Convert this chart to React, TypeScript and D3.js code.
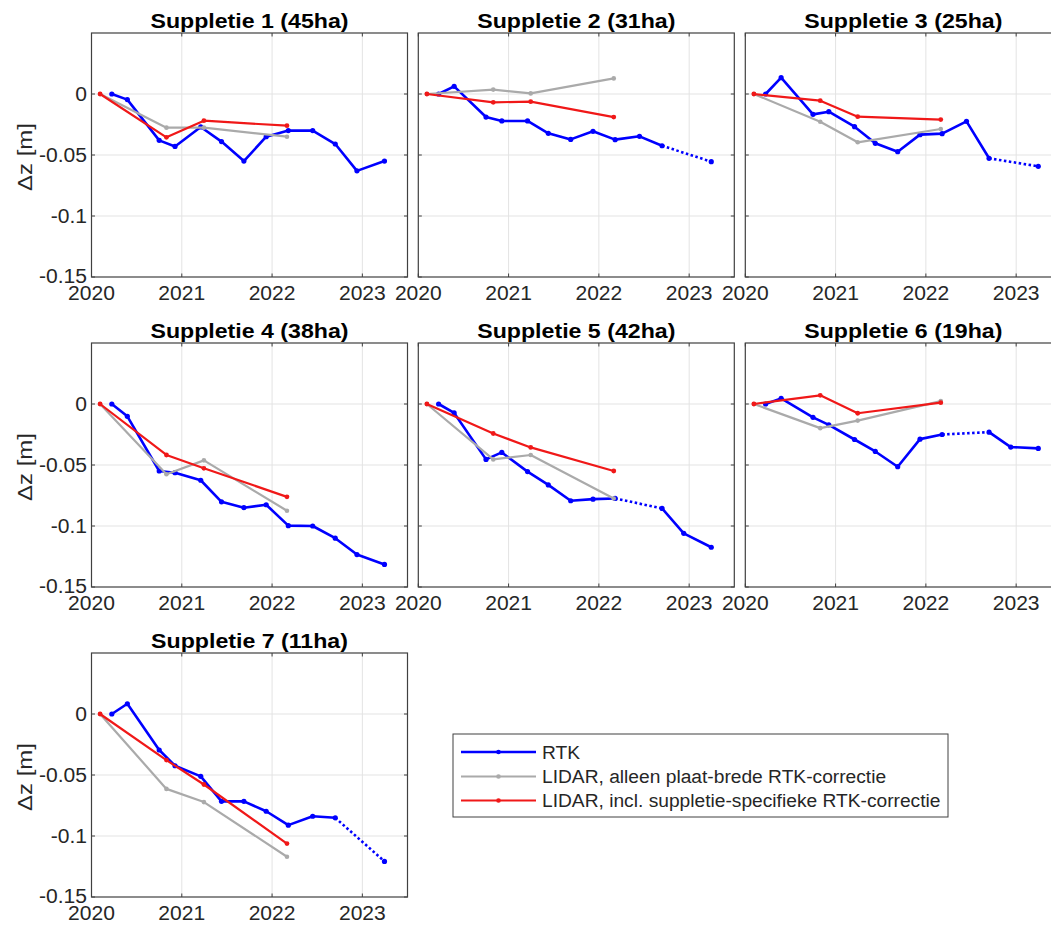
import React from "react";
import * as d3 from "d3";

// ---------- data ----------
const RTK_DATES = [2020.225, 2020.397, 2020.75, 2020.925, 2021.21, 2021.44, 2021.688, 2021.935, 2022.18, 2022.45, 2022.70, 2022.94, 2023.245];
const LIDAR_DATES = [2020.095, 2020.83, 2021.245, 2022.165];

const TITLES = ["Suppletie 1 (45ha)", "Suppletie 2 (31ha)", "Suppletie 3 (25ha)", "Suppletie 4 (38ha)", "Suppletie 5 (42ha)", "Suppletie 6 (19ha)", "Suppletie 7 (11ha)"];

const rtk1 = [0, -0.0046, -0.038, -0.043, -0.027, -0.039, -0.055, -0.035, -0.030, -0.030, -0.041, -0.063, -0.055];
const rtk2 = [0, 0.0063, -0.0189, -0.0221, -0.0221, -0.0322, -0.0372, -0.0306, -0.0374, -0.0347, -0.0424, null, -0.0555];
const rtk3 = [0, 0.0134, -0.0167, -0.0145, -0.0268, -0.0404, -0.0473, -0.0333, -0.0325, -0.0224, -0.0527, null, -0.0593];
const rtk4 = [0, -0.0101, -0.0549, -0.0563, -0.0625, -0.0802, -0.085, -0.0826, -0.0997, -0.100, -0.110, -0.1234, -0.1315];
const rtk5 = [0, -0.0073, -0.0454, -0.0397, -0.0554, -0.0663, -0.0793, -0.078, -0.0774, null, -0.0856, -0.106, -0.1174];
const rtk6 = [0, 0.0046, -0.0109, -0.0171, -0.0291, -0.0389, -0.0514, -0.0288, -0.025, null, -0.0231, -0.0353, -0.0364];
const rtk7 = [0, 0.0084, -0.0295, -0.0424, -0.0511, -0.0716, -0.0716, -0.0797, -0.0911, -0.0838, -0.0851, null, -0.1208];

const gray1 = [0, -0.0276, -0.0276, -0.035];
const gray2 = [0, 0.0036, 0.0005, 0.0128];
const gray3 = [0, -0.0227, -0.0396, -0.0287];
const gray4 = [0, -0.0576, -0.0462, -0.0875];
const gray5 = [0, -0.0454, -0.0418, -0.0774];
const gray6 = [0, -0.0198, -0.0136, 0.0024];
const gray7 = [0, -0.0614, -0.0722, -0.117];

const red1 = [0, -0.0355, -0.0219, -0.026];
const red2 = [0, -0.0068, -0.0063, -0.0189];
const red3 = [0, -0.0055, -0.0186, -0.021];
const red4 = [0, -0.0418, -0.0527, -0.0761];
const red5 = [0, -0.0242, -0.0356, -0.0549];
const red6 = [0, 0.0071, -0.0076, 0.0011];
const red7 = [0, -0.0378, -0.0578, -0.1062];

const RTK = [rtk1, rtk2, rtk3, rtk4, rtk5, rtk6, rtk7];
const GRAY = [gray1, gray2, gray3, gray4, gray5, gray6, gray7];
const RED = [red1, red2, red3, red4, red5, red6, red7];

const X_TICKS = [2020, 2021, 2022, 2023];
const Y_TICKS = [0, -0.05, -0.1, -0.15];
const Y_TICK_LABELS = ["0", "-0.05", "-0.1", "-0.15"];
const LEGEND_LABELS = ["RTK", "LIDAR, alleen plaat-brede RTK-correctie", "LIDAR, incl. suppletie-specifieke RTK-correctie"];

// ---------- style ----------
const BLUE = "#0000ff";
const GRAYC = "#aaaaaa";
const REDC = "#f01818";
const AXIS = "#404040";
const GRID = "#e3e3e3";
const TEXTC = "#262626";
const FONT = "'Liberation Sans', Arial, Helvetica, sans-serif";

const COL_LEFT = [91.5, 418.3, 745.3];
const ROW_TOP = [33, 343, 653];
const PW = 316;
const PH = 244;

function T({ x, y, anchor = "middle", size = 19.5, sx = 1.08, weight = "normal", rotate = 0, fill = TEXTC, children }: any) {
  const tr = `translate(${x},${y})${rotate ? ` rotate(${rotate})` : ""} scale(${sx},1)`;
  return (
    <text transform={tr} textAnchor={anchor} fontSize={size} fontWeight={weight} fontFamily={FONT} fill={fill}>
      {children}
    </text>
  );
}

function Panel({ idx }: { idx: number }) {
  const col = idx % 3;
  const row = Math.floor(idx / 3);
  const left = COL_LEFT[col];
  const top = ROW_TOP[row];
  const x = d3.scaleLinear().domain([2020, 2023.5]).range([left, left + PW]);
  const y = d3.scaleLinear().domain([-0.15, 0.05]).range([top + PH, top]);

  const rtk = RTK[idx].map((v, i) => ({ d: RTK_DATES[i], v }));
  const line = d3.line<any>().defined((p) => p.v != null).x((p) => x(p.d)).y((p) => y(p.v));
  // dotted bridges over missing points
  const bridges: any[] = [];
  for (let i = 0; i < rtk.length; i++) {
    if (rtk[i].v == null) {
      let a = i - 1;
      let b = i + 1;
      while (b < rtk.length && rtk[b].v == null) b++;
      if (a >= 0 && b < rtk.length) bridges.push([rtk[a], rtk[b]]);
    }
  }
  const lid = (arr: number[]) => arr.map((v, i) => ({ d: LIDAR_DATES[i], v }));
  const gray = lid(GRAY[idx]);
  const red = lid(RED[idx]);
  const right = left + PW;
  const bottom = top + PH;

  return (
    <g>
      <rect x={left} y={top} width={PW} height={PH} fill="#fff" />
      {X_TICKS.slice(1).map((t) => (
        <line key={"gx" + t} x1={x(t)} x2={x(t)} y1={top} y2={bottom} stroke={GRID} strokeWidth={1} />
      ))}
      {Y_TICKS.slice(0, 3).map((t) => (
        <line key={"gy" + t} x1={left} x2={right} y1={y(t)} y2={y(t)} stroke={GRID} strokeWidth={1} />
      ))}
      {/* ticks */}
      {X_TICKS.map((t) => (
        <g key={"tx" + t}>
          <line x1={x(t)} x2={x(t)} y1={bottom} y2={bottom - 3.5} stroke={AXIS} />
          <line x1={x(t)} x2={x(t)} y1={top} y2={top + 3.5} stroke={AXIS} />
        </g>
      ))}
      {Y_TICKS.map((t) => (
        <g key={"ty" + t}>
          <line x1={left} x2={left + 3.5} y1={y(t)} y2={y(t)} stroke={AXIS} />
          <line x1={right} x2={right - 3.5} y1={y(t)} y2={y(t)} stroke={AXIS} />
        </g>
      ))}
      {/* RTK */}
      <path d={line(rtk) || ""} fill="none" stroke={BLUE} strokeWidth={2.6} strokeLinejoin="round" />
      {bridges.map((b, i) => (
        <line key={"br" + i} x1={x(b[0].d)} y1={y(b[0].v)} x2={x(b[1].d)} y2={y(b[1].v)} stroke={BLUE} strokeWidth={2.6} strokeDasharray="2.5 2.5" />
      ))}
      {rtk.filter((p) => p.v != null).map((p, i) => (
        <circle key={"rp" + i} cx={x(p.d)} cy={y(p.v as number)} r={2.6} fill={BLUE} />
      ))}
      {/* LIDAR gray */}
      <path d={line(gray) || ""} fill="none" stroke={GRAYC} strokeWidth={2.2} strokeLinejoin="round" />
      {gray.map((p, i) => (
        <circle key={"gp" + i} cx={x(p.d)} cy={y(p.v)} r={2.3} fill={GRAYC} />
      ))}
      {/* LIDAR red */}
      <path d={line(red) || ""} fill="none" stroke={REDC} strokeWidth={2.2} strokeLinejoin="round" />
      {red.map((p, i) => (
        <circle key={"dp" + i} cx={x(p.d)} cy={y(p.v)} r={2.4} fill={REDC} />
      ))}
      <rect x={left} y={top} width={PW} height={PH} fill="none" stroke={AXIS} strokeWidth={1.2} />
      {/* labels */}
      {X_TICKS.map((t) => (
        <T key={"lx" + t} x={x(t)} y={bottom + 23}>{String(t)}</T>
      ))}
      {col === 0 &&
        Y_TICKS.map((t, i) => (
          <T key={"ly" + t} x={left - 4.5} y={y(t) + (i === 3 ? 5.5 : 7)} anchor="end">{Y_TICK_LABELS[i]}</T>
        ))}
      {col === 0 && (
        <T x={32} y={top + PH / 2 + 2} rotate={-90} size={20.5} sx={1.17}>Δz [m]</T>
      )}
      <T x={left + PW / 2} y={top - 5} size={20.5} sx={1.13} weight="bold" fill="#000">{TITLES[idx]}</T>
    </g>
  );
}

function Legend() {
  const lx = 453;
  const ly = 734;
  const colors = [BLUE, GRAYC, REDC];
  const ys = [752, 776.5, 800.5];
  return (
    <g>
      <rect x={lx} y={ly} width={495} height={83} fill="#fff" stroke={AXIS} strokeWidth={1} />
      {LEGEND_LABELS.map((lab, i) => (
        <g key={lab}>
          <line x1={461} x2={536} y1={ys[i]} y2={ys[i]} stroke={colors[i]} strokeWidth={i === 0 ? 2.6 : 2.2} />
          <circle cx={498.5} cy={ys[i]} r={2.3} fill={colors[i]} />
          <T x={542} y={ys[i] + 6.5} anchor="start" size={19.2} sx={1.0}>{lab}</T>
        </g>
      ))}
    </g>
  );
}

export default function App() {
  return (
    <div style={{ position: "absolute", left: 0, top: 0, width: 1051, height: 928, overflow: "hidden", background: "#fff" }}>
      <svg width={1051} height={928} style={{ display: "block" }}>
        <rect width={1051} height={928} fill="#fff" />
        {TITLES.map((_, i) => (
          <Panel key={i} idx={i} />
        ))}
        <Legend />
      </svg>
    </div>
  );
}
